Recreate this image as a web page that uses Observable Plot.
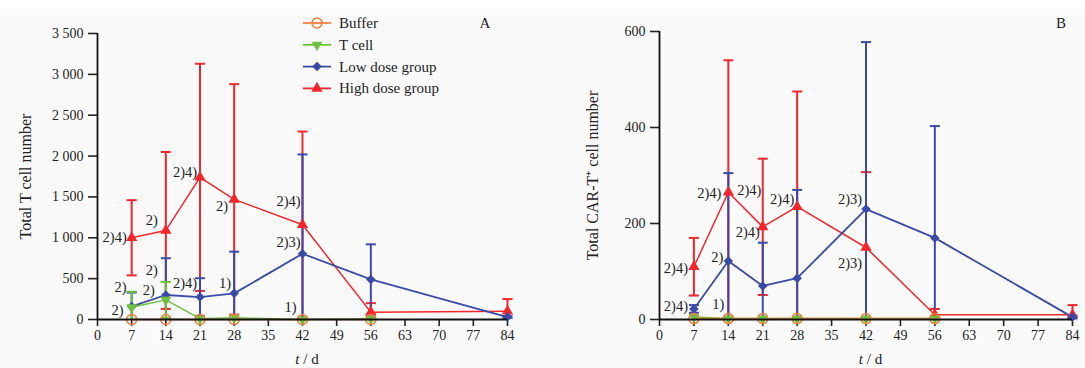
<!DOCTYPE html>
<html><head><meta charset="utf-8">
<script src="https://cdn.jsdelivr.net/npm/d3@7"></script>
<script src="https://cdn.jsdelivr.net/npm/@observablehq/plot@0.6"></script>
<style>
html,body{margin:0;padding:0;background:#fff;}
#wrap{position:relative;width:1085px;height:368px;overflow:hidden;font-family:"Liberation Serif","Times New Roman",serif;}
#bg{position:absolute;left:0;top:9px;width:1085px;height:359px;background:#fafafa;}
#wrap svg{position:absolute;top:0;overflow:visible;}
</style></head><body><div id="wrap"><div id="bg"></div></div>
<script>
// ---------- data ----------
const days = [7, 14, 21, 28, 42, 56, 84];
const seriesNames = ["Buffer", "T cell", "Low dose group", "High dose group"];
const xTicks = [0, 7, 14, 21, 28, 35, 42, 49, 56, 63, 70, 77, 84];

// Panel A: total T cell number
const bufferA = [0, 0, 0, 0, 0, 0];
const bufferSdA = [0, 0, 0, 0, 0, 0];
const tcellA = [150, 240, 10, 20, 0, 10];
const tcellSdA = [190, 220, 10, 30, 0, 5];
const lowA = [160, 300, 275, 320, 805, 490, 30];
const lowSdA = [170, 450, 230, 510, 1215, 430, 10];
const highA = [1000, 1090, 1740, 1470, 1160, 90, 100];
const highSdA = [460, 960, 1390, 1410, 1140, 110, 150];
const yTicksA = [0, 500, 1000, 1500, 2000, 2500, 3000, 3500];

// Panel B: total CAR-T+ cell number
const bufferB = [2, 2, 2, 2, 2, 2];
const bufferSdB = [0, 0, 0, 0, 0, 0];
const tcellB = [5, 2, 2, 2, 2, 2];
const tcellSdB = [0, 0, 0, 0, 0, 0];
const lowB = [22, 122, 70, 86, 230, 170, 5];
const lowSdB = [8, 183, 90, 184, 348, 233, 3];
const highB = [110, 265, 193, 235, 150, 10, 10];
const highSdB = [60, 275, 142, 240, 157, 12, 20];
const yTicksB = [0, 200, 400, 600];

// significance notes: label, series, day
const notesA = [
  ["2)4)", "High dose group", 7], ["2)", "High dose group", 14], ["2)4)", "High dose group", 21],
  ["2)", "High dose group", 28], ["2)4)", "High dose group", 42], ["2)3)", "Low dose group", 42],
  ["1)", "Buffer", 42], ["2)", "Low dose group", 14], ["2)4)", "Low dose group", 21],
  ["1)", "Low dose group", 28], ["2)", "Low dose group", 7], ["2)", "T cell", 14], ["2)", "T cell", 7]
];
const notesB = [
  ["2)4)", "High dose group", 14], ["2)4)", "High dose group", 14], ["2)4)", "High dose group", 28],
  ["2)4)", "High dose group", 21], ["2)4)", "High dose group", 7], ["2)", "Low dose group", 14],
  ["2)4)", "Low dose group", 7], ["1)", "Buffer", 14], ["2)3)", "Low dose group", 42],
  ["2)3)", "High dose group", 42]
];

// ---------- layout / style ----------
const offsetsA = [[-17,0],[-14,-10],[-15,-5],[-12,7],[-14,-23],[-14,-11],[-12,-12],[-14,-25],[-15,-14],[-9,-10],[-11,-19],[-17,-10],[-14,3]];
const offsetsB = [[-19,1],[21,-2],[-15,-7],[-15,5],[-18,2],[-11,-4],[-18,-3],[-10,-14],[-16,-10],[-16,16]];
const colors = {"Buffer":"#f5813f","T cell":"#6cc23e","Low dose group":"#3b4aa6","High dose group":"#f2262b"};
const FONT = "'Liberation Serif','Times New Roman',serif";

const triDown = {draw(ctx, size){ const s3 = Math.sqrt(3); const y = Math.sqrt(size/(s3*3)); ctx.moveTo(0, y*2); ctx.lineTo(-s3*y, -y); ctx.lineTo(s3*y, -y); ctx.closePath(); }};
const cap = {draw(ctx, size){ const w = Math.sqrt(size/Math.PI); ctx.moveTo(-w, 0); ctx.lineTo(w, 0); }};
const symbols = {"Buffer":"circle","T cell":triDown,"Low dose group":"diamond2","High dose group":"triangle"};
const radius = {"Buffer":5,"T cell":4,"Low dose group":4.3,"High dose group":4.2};

function rows(vals, sds){ return vals.map((v,i)=>({day: days[i], value: v, lo: Math.max(0, v - sds[i]), hi: v + sds[i], sd: sds[i]})); }

function panel(cfg){
  const order = ["High dose group","Low dose group","T cell","Buffer"];
  const marks = [];
  marks.push(Plot.axisY({ticks: cfg.yTicks, tickFormat: cfg.fmt, tickSize: 9, tickPadding: 5, strokeWidth: 1.6, label: null, fontSize: 14, fill: "#222"}));
  marks.push(Plot.axisX({ticks: xTicks, tickSize: 7, tickPadding: 4, strokeWidth: 1.6, label: null, fontSize: 14, fill: "#222"}));
  for (const s of order){
    const d = cfg.data[s].filter(r => r.sd > 0);
    marks.push(Plot.ruleX(d, {x: "day", y1: "lo", y2: "hi", stroke: colors[s], strokeWidth: 2}));
    marks.push(Plot.dot(d, {x: "day", y: "hi", symbol: cap, r: 5, stroke: colors[s], strokeWidth: 2, fill: "none"}));
    marks.push(Plot.dot(d.filter(r => r.lo > 0), {x: "day", y: "lo", symbol: cap, r: 5, stroke: colors[s], strokeWidth: 2, fill: "none"}));
  }
  for (const s of order){
    marks.push(Plot.line(cfg.data[s], {x: "day", y: "value", stroke: colors[s], strokeWidth: s === "Low dose group" ? 1.8 : 1.5}));
  }
  for (const s of order){
    if (s === "Buffer") marks.push(Plot.dot(cfg.data[s], {x: "day", y: "value", symbol: "circle", r: radius[s], stroke: colors[s], strokeWidth: 1.6, fill: "none"}));
    else marks.push(Plot.dot(cfg.data[s], {x: "day", y: "value", symbol: symbols[s], r: radius[s], fill: colors[s], stroke: "none"}));
  }
  marks.push(Plot.ruleX([0], {stroke: "#111", strokeWidth: 1.8}));
  marks.push(Plot.ruleY([0], {stroke: "#111", strokeWidth: 1.8}));
  cfg.notes.forEach((n, i) => {
    const r = cfg.data[n[1]].find(p => p.day === n[2]);
    marks.push(Plot.text([{day: r.day, value: r.value, label: n[0]}], {x: "day", y: "value", text: "label", dx: cfg.offsets[i][0], dy: cfg.offsets[i][1], fontSize: 14.5, fill: "#222"}));
  });
  marks.push(Plot.text([cfg.ylabel], {frameAnchor: "left", textAnchor: "middle", rotate: -90, dx: cfg.ylabelDx, fontSize: 16, fill: "#222"}));
  const p = Plot.plot({
    width: cfg.width, height: 368,
    marginLeft: cfg.ml, marginRight: cfg.mr, marginTop: cfg.mt, marginBottom: 49,
    x: {domain: [0, 84]}, y: {domain: cfg.yDomain},
    style: {fontFamily: FONT, fontSize: "14px", background: "transparent", color: "#222"},
    marks
  });
  const sx = p.scale("x");
  const t = d3.select(p).append("text").attr("x", sx.apply(42) + 5).attr("y", 361).attr("text-anchor", "middle")
    .attr("dominant-baseline", "middle").style("font-family", FONT).style("font-size", "15px").attr("fill", "#222");
  t.append("tspan").style("font-style", "italic").text("t");
  t.append("tspan").text(" / d");
  p.style.left = cfg.left + "px";
  return p;
}

const fmtA = d => d3.format(",")(d).replace(",", " ");
const wrap = document.getElementById("wrap");

const dataA = {"Buffer": rows(bufferA, bufferSdA), "T cell": rows(tcellA, tcellSdA), "Low dose group": rows(lowA, lowSdA), "High dose group": rows(highA, highSdA)};
const dataB = {"Buffer": rows(bufferB, bufferSdB), "T cell": rows(tcellB, tcellSdB), "Low dose group": rows(lowB, lowSdB), "High dose group": rows(highB, highSdB)};

wrap.appendChild(panel({data: dataA, yDomain: [0, 3500], yTicks: yTicksA, fmt: fmtA, ylabel: "Total T cell number", ylabelDx: -72,
  width: 545, left: 0, ml: 97, mr: 38, mt: 33, notes: notesA, offsets: offsetsA}));
wrap.appendChild(panel({data: dataB, yDomain: [0, 600], yTicks: yTicksB, fmt: d3.format("d"), ylabel: "Total CAR-T\u207A cell number", ylabelDx: -67,
  width: 540, left: 545, ml: 114, mr: 13, mt: 31, notes: notesB, offsets: offsetsB}));

// legend + panel letters
const leg = d3.select(wrap).append("svg").attr("width", 1085).attr("height", 368).style("left", "0px").style("pointer-events", "none");
seriesNames.forEach((s, i) => {
  const y = 23 + i * 21.8;
  const g = leg.append("g").attr("transform", `translate(303,${y})`);
  g.append("line").attr("x1", 0).attr("x2", 28).attr("stroke", colors[s]).attr("stroke-width", 1.8);
  const sym = symbols[s];
  const sz = Math.PI * radius[s] * radius[s];
  const path = d3.symbol(typeof sym === "string" ? (sym === "circle" ? d3.symbolCircle : sym === "triangle" ? d3.symbolTriangle : d3.symbolDiamond2) : sym, sz)();
  const m = g.append("path").attr("d", path).attr("transform", "translate(14,0)");
  if (s === "Buffer") m.attr("fill", "none").attr("stroke", colors[s]).attr("stroke-width", 1.6);
  else m.attr("fill", colors[s]);
  g.append("text").attr("x", 36).attr("y", 0).attr("dominant-baseline", "central").style("font-family", FONT).style("font-size", "15px").attr("fill", "#222").text(s);
});
leg.append("text").attr("x", 485).attr("y", 23).attr("text-anchor", "middle").attr("dominant-baseline", "central").style("font-family", FONT).style("font-size", "15px").attr("fill", "#222").text("A");
leg.append("text").attr("x", 1061).attr("y", 23).attr("text-anchor", "middle").attr("dominant-baseline", "central").style("font-family", FONT).style("font-size", "15px").attr("fill", "#222").text("B");
</script></body></html>
